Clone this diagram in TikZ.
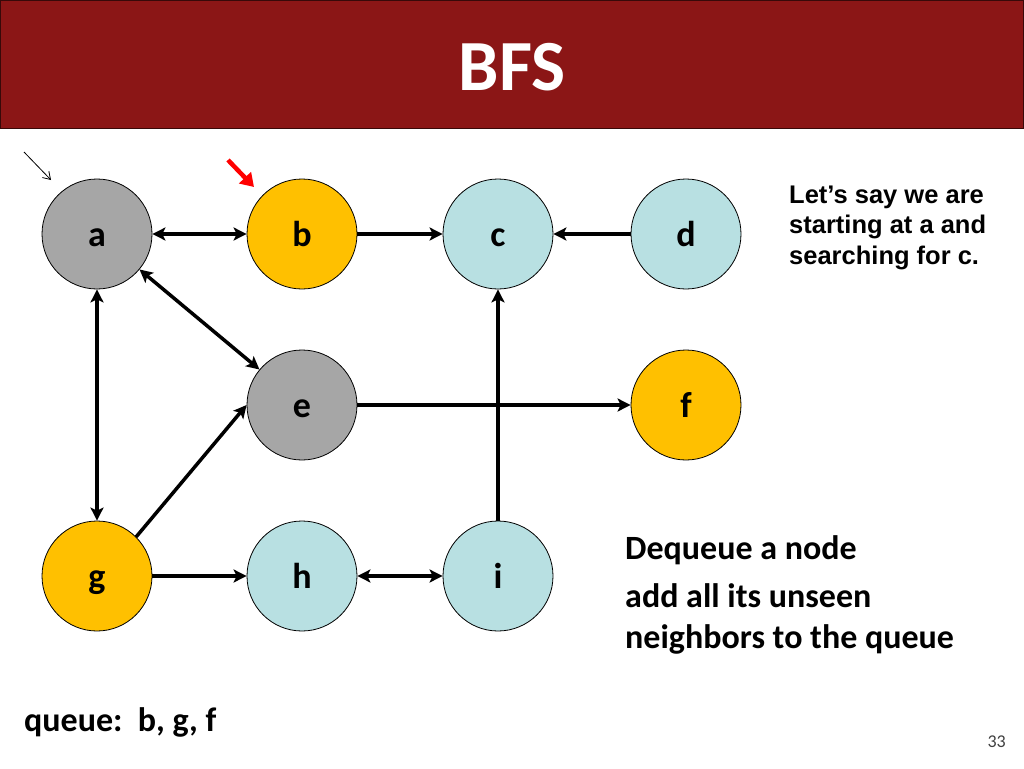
\documentclass[tikz,border=0pt]{standalone}
\usepackage{fontspec}
\setmainfont{Carlito}
\newfontfamily\arialfont{Liberation Sans}
\usepackage{xcolor}
\usetikzlibrary{arrows.meta}
\definecolor{headred}{HTML}{8B1616}
\definecolor{seengray}{HTML}{A6A6A6}
\definecolor{queuegold}{HTML}{FFC000}
\definecolor{freshblue}{HTML}{B8E0E2}

\begin{document}
\begin{tikzpicture}[x=1pt,y=-1pt,
        vertex/.style={circle, draw=black, line width=0.8pt, minimum size=110pt, inner sep=0pt,
            font=\fontsize{36}{40}\selectfont\bfseries, text height=26pt, text depth=2pt},
        seen/.style={vertex, fill=seengray},
        queued/.style={vertex, fill=queuegold},
        fresh/.style={vertex, fill=freshblue},
        edge/.style={line width=3.5pt, >={Stealth[length=13pt,width=13pt,inset=3pt]}}]
        \useasboundingbox (0,0) rectangle (1024,768);
        % title bar
        \fill[headred] (0,0) rectangle (1024,128);
        \draw[black!60!headred, line width=1pt] (0.5,0.5) rectangle (1023.5,128);
        \node[anchor=base, text=white, font=\fontsize{72}{76}\selectfont\bfseries] (title) at (512,90) {BFS};
        % graph
        \node[seen] (a) at (97,234) {a};
        \node[queued] (b) at (302,234) {b};
        \node[fresh] (c) at (498,234) {c};
        \node[fresh] (d) at (686,234) {d};
        \node[seen] (e) at (302,405) {e};
        \node[queued] (f) at (686,405) {f};
        \node[queued] (g) at (97,576) {g};
        \node[fresh] (h) at (302,576) {h};
        \node[fresh] (i) at (498,576) {i};
        \draw[edge,<->] (a) -- (b);
        \draw[edge,->] (b) -- (c);
        \draw[edge,->] (d) -- (c);
        \draw[edge,<->] (a) -- (e);
        \draw[edge,<->] (a) -- (g);
        \draw[edge,->] (g.45) -- (e.west);
        \draw[edge,->] (e) -- (f);
        \draw[edge,->] (i) -- (c);
        \draw[edge,->] (g) -- (h);
        \draw[edge,<->] (h) -- (i);
        % pointers
        \coordinate (start0) at (24,152);
        \coordinate (start1) at (51,180);
        \draw[line width=0.8pt, -{Straight Barb[length=7pt,width=9pt]}] (start0) -- (start1);
        \coordinate (cur0) at (228,160);
        \coordinate (cur1) at (254,187);
        \draw[red, line width=4.5pt, -{Triangle[length=13pt,width=16pt]}] (cur0) -- (cur1);
        % texts
        \node[anchor=base west, inner sep=0pt, align=left, font=\arialfont\fontsize{25.5}{30.5}\selectfont\bfseries] (goal) at (789,264)
            {Let’s say we are\\starting at a and\\searching for c.};
        \node[anchor=base west, inner sep=0pt, font=\fontsize{34}{40}\selectfont\bfseries] (step1) at (625,559) {Dequeue a node};
        \node[anchor=base west, inner sep=0pt, align=left, font=\fontsize{34}{41}\selectfont\bfseries] (step2) at (625,648)
            {add all its unseen\\neighbors to the queue};
        \node[anchor=base west, inner sep=0pt, font=\fontsize{34}{40}\selectfont\bfseries] (queue) at (24,731) {queue:\ \ b, g, f};
        \node[anchor=base east, inner sep=0pt, text=black!75, font=\fontsize{18}{20}\selectfont] (page) at (1006,747) {33};
    \end{tikzpicture}
\end{document}
